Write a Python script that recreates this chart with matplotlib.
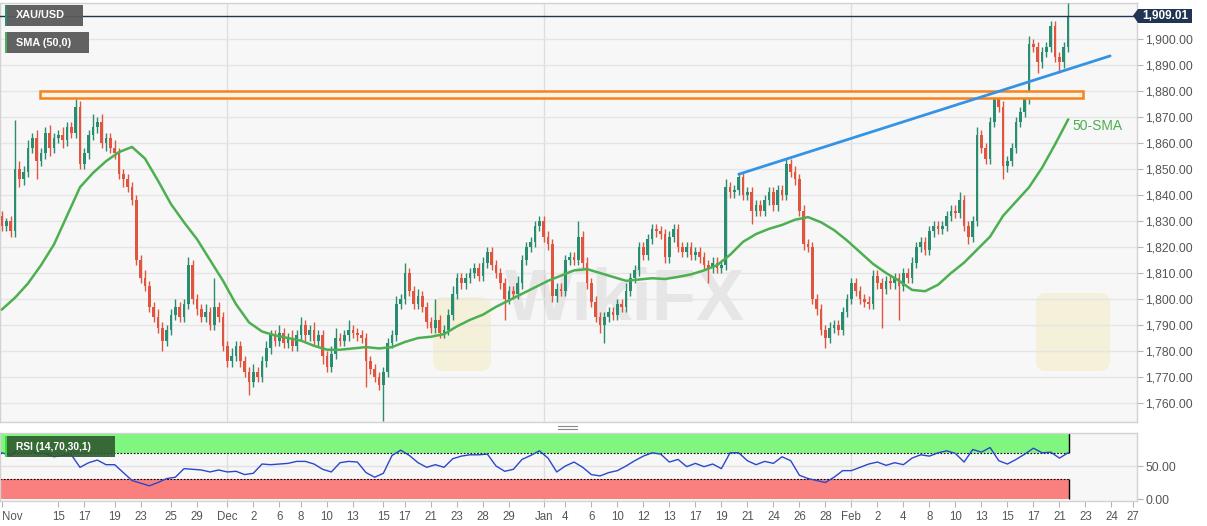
import numpy as np
import matplotlib
matplotlib.use('Agg')
import matplotlib.pyplot as plt
from matplotlib.patches import Rectangle, FancyBboxPatch, Polygon
from matplotlib.lines import Line2D
from matplotlib.transforms import IdentityTransform
from matplotlib.ticker import FuncFormatter

plt.rcParams['font.family'] = ['Liberation Sans', 'DejaVu Sans']

# XAU/USD, 3 candles per trading day, Nov 2021 .. 22 Feb 2022
first_open = 1832
closes = [1828, 1830, 1826, 1850, 1846, 1849, 1858, 1862, 1853, 1856,
          1864, 1858, 1862, 1863, 1861, 1866, 1864, 1874, 1852, 1856,
          1863, 1866, 1868, 1860, 1862, 1858, 1856, 1848, 1846, 1843,
          1838, 1815, 1808, 1805, 1797, 1793, 1789, 1784, 1788, 1794,
          1797, 1793, 1798, 1813, 1800, 1796, 1793, 1795, 1790, 1797,
          1793, 1782, 1776, 1778, 1782, 1776, 1772, 1768, 1772, 1770,
          1776, 1781, 1786, 1784, 1787, 1783, 1785, 1782, 1786, 1790,
          1786, 1788, 1784, 1786, 1778, 1774, 1779, 1785, 1784, 1786,
          1788, 1787, 1786, 1785, 1776, 1773, 1770, 1767, 1772, 1783,
          1786, 1798, 1800, 1810, 1803, 1798, 1801, 1797, 1791, 1789,
          1792, 1787, 1788, 1794, 1802, 1808, 1806, 1808, 1810, 1812,
          1809, 1814, 1818, 1813, 1810, 1806, 1800, 1803, 1802, 1806,
          1815, 1820, 1822, 1828, 1830, 1824, 1821, 1801, 1804, 1803,
          1815, 1816, 1815, 1824, 1814, 1806, 1799, 1793, 1790, 1793,
          1795, 1794, 1798, 1797, 1803, 1808, 1811, 1820, 1817, 1823,
          1827, 1826, 1825, 1816, 1824, 1827, 1820, 1818, 1820, 1817,
          1818, 1816, 1813, 1812, 1814, 1812, 1813, 1843, 1841, 1842,
          1847, 1840, 1841, 1834, 1836, 1834, 1838, 1841, 1836, 1842,
          1840, 1852, 1849, 1846, 1834, 1821, 1820, 1800, 1796, 1788,
          1785, 1789, 1790, 1788, 1795, 1800, 1806, 1803, 1800, 1799,
          1798, 1809, 1806, 1804, 1807, 1806, 1808, 1805, 1810, 1808,
          1814, 1820, 1822, 1819, 1826, 1828, 1827, 1828, 1832, 1834,
          1833, 1838, 1828, 1824, 1830, 1863, 1858, 1854, 1868, 1877,
          1874, 1851, 1853, 1858, 1868, 1872, 1877, 1898, 1897, 1891,
          1895, 1897, 1905, 1893, 1891, 1897, 1909.01]
# wick length above / below the candle body
wick_up = [2, 1, 2, 19, 3, 2, 3, 2, 3, 2,
           2, 3, 2, 2, 3, 2, 2, 3, 2, 2,
           2, 5, 2, 3, 2, 2, 3, 2, 2, 2,
           2, 2, 2, 3, 2, 2, 3, 2, 2, 2,
           3, 2, 2, 3, 2, 2, 2, 3, 2, 11,
           2, 2, 2, 3, 2, 2, 2, 2, 3, 2,
           2, 3, 2, 2, 3, 2, 2, 3, 2, 3,
           2, 2, 3, 2, 2, 2, 3, 4, 2, 2,
           4, 2, 2, 2, 2, 2, 2, 2, 2, 2,
           2, 3, 2, 4, 2, 2, 3, 2, 2, 2,
           8, 2, 2, 2, 3, 2, 2, 2, 2, 2,
           2, 2, 2, 2, 2, 2, 2, 2, 2, 3,
           2, 2, 2, 2, 2, 2, 2, 2, 2, 2,
           2, 2, 2, 6, 2, 2, 2, 2, 2, 2,
           2, 2, 2, 2, 3, 2, 2, 2, 2, 2,
           2, 2, 2, 2, 2, 2, 2, 2, 2, 2,
           2, 2, 2, 2, 2, 2, 2, 3, 2, 2,
           1, 2, 2, 2, 2, 2, 2, 2, 2, 2,
           2, 2, 2, 2, 2, 2, 2, 2, 2, 2,
           2, 2, 2, 2, 2, 2, 2, 2, 2, 2,
           2, 2, 2, 2, 2, 2, 2, 2, 2, 2,
           2, 2, 2, 2, 2, 2, 2, 2, 2, 2,
           2, 3, 2, 2, 2, 3, 2, 2, 2, 2,
           3, 2, 2, 2, 2, 2, 2, 3, 2, 2,
           2, 2, 2, 2, 2, 2, 5]
wick_dn = [2, 2, 2, 2, 3, 2, 2, 2, 7, 2,
           2, 3, 2, 2, 3, 2, 2, 2, 2, 2,
           2, 2, 2, 2, 3, 2, 2, 2, 3, 2,
           2, 2, 2, 2, 2, 2, 2, 4, 2, 2,
           2, 2, 2, 2, 2, 2, 2, 2, 2, 2,
           2, 2, 2, 2, 2, 2, 2, 5, 2, 2,
           2, 2, 2, 2, 2, 2, 2, 2, 2, 2,
           2, 2, 2, 2, 3, 2, 2, 2, 2, 2,
           2, 2, 2, 2, 10, 2, 2, 2, 14, 2,
           2, 2, 2, 2, 2, 2, 2, 2, 2, 2,
           2, 2, 2, 2, 2, 2, 2, 2, 2, 2,
           2, 2, 2, 2, 2, 2, 8, 2, 2, 2,
           2, 2, 2, 2, 2, 2, 2, 2, 2, 2,
           2, 2, 2, 2, 2, 2, 2, 2, 3, 7,
           2, 2, 2, 2, 2, 2, 2, 2, 2, 2,
           2, 2, 2, 2, 2, 2, 2, 2, 2, 2,
           2, 2, 2, 6, 2, 2, 2, 2, 2, 2,
           2, 2, 2, 5, 2, 2, 2, 2, 2, 2,
           2, 2, 2, 2, 2, 2, 2, 2, 2, 2,
           4, 2, 2, 2, 2, 2, 2, 2, 2, 2,
           2, 2, 2, 15, 2, 2, 2, 13, 2, 2,
           2, 2, 2, 2, 2, 2, 2, 2, 2, 2,
           2, 2, 2, 3, 2, 2, 2, 2, 2, 2,
           2, 5, 2, 2, 2, 2, 2, 2, 2, 4,
           2, 2, 2, 2, 4, 2, 2]
# SMA(50), read once per trading day (every 3rd candle)
sma50 = [1796, 1800.5, 1806, 1813, 1821, 1832, 1843, 1848.5, 1853, 1856.5,
         1858.5, 1854, 1845.5, 1836.5, 1829.5, 1823, 1815, 1807, 1798, 1791,
         1787.5, 1786, 1785, 1784, 1782, 1780.5, 1780.5, 1781, 1781.5, 1781,
         1781.5, 1783.5, 1785, 1785.5, 1786.5, 1789.5, 1792, 1794, 1797, 1799.5,
         1802, 1804.5, 1807, 1809, 1811, 1811.5, 1810, 1808.5, 1807, 1807.5,
         1808, 1807.7, 1808.5, 1809.5, 1811, 1813, 1817, 1822, 1825, 1827,
         1828.5, 1830.5, 1831.5, 1829.5, 1826.5, 1822.5, 1818, 1813.5, 1810, 1807,
         1803.5, 1803, 1805.5, 1810, 1814, 1819, 1824, 1832, 1837.5, 1843,
         1850.5, 1859.5, 1869]
# RSI(14), read every 2nd candle
rsi14 = [70, 66, 77, 79, 69, 69, 64, 66, 67, 48,
         55, 59, 52, 52, 40, 28, 24, 20, 25, 31,
         33, 46, 45, 44, 41, 44, 41, 42, 37, 39,
         53, 52, 53, 54, 57, 57, 53, 45, 41, 55,
         57, 56, 40, 33, 39, 66, 74, 66, 55, 48,
         52, 48, 61, 65, 67, 67, 68, 50, 42, 45,
         60, 66, 73, 62, 41, 50, 56, 48, 37, 35,
         40, 43, 50, 58, 65, 70, 68, 56, 60, 49,
         54, 49, 53, 46, 70, 70, 58, 52, 57, 54,
         64, 58, 36, 31, 28, 25, 33, 43, 43, 48,
         53, 56, 51, 55, 52, 62, 67, 65, 70, 73,
         69, 56, 75, 71, 78, 58, 53, 60, 68, 77,
         70, 71, 62, 70]
tick_idx = [0, 13, 19, 26, 32, 39, 45, 52, 58, 64, 69, 75, 81, 88, 93, 99,
            105, 111, 117, 125, 130, 136, 142, 148, 154, 160, 166, 172, 178,
            184, 190, 196, 202, 208, 214, 220, 226, 232, 238, 244, 250, 256, 261]
tick_lab = ['Nov', '15', '17', '19', '23', '25', '29', 'Dec', '2', '6', '8',
            '10', '13', '15', '17', '21', '23', '28', '29', 'Jan', '4', '6',
            '10', '12', '13', '17', '19', '21', '24', '26', '28', 'Feb', '2',
            '4', '8', '10', '13', '15', '17', '21', '23', '24', '27']
month_idx = [52, 125, 196]
trend_x = [170, 255.7]
trend_y = [1848.0, 1893.5]
zone_x = [8.8, 249.5]
zone_y = [1877.3, 1880.0]
last_price = 1909.01

closes = np.array(closes, dtype=float)
opens = np.r_[first_open, closes[:-1]]
highs = np.maximum(opens, closes) + np.array(wick_up)
lows = np.minimum(opens, closes) - np.array(wick_dn)
idx = np.arange(len(closes))
sma_idx = np.arange(0, len(closes), 3)
rsi_idx = np.arange(0, len(closes), 2)
last_i = idx[-1] + 0.2

W, H = 1207, 526
fig = plt.figure(figsize=(W / 100, H / 100), dpi=100)
fig.patch.set_facecolor('white')


def px_box(l, t, r, b):
    return [l / W, 1 - b / H, (r - l) / W, (b - t) / H]


ax = fig.add_axes(px_box(0, 3, 1137, 422))
ax2 = fig.add_axes(px_box(0, 433, 1137, 501), sharex=ax)
for a in (ax, ax2):
    a.set_facecolor('#f7f7f7')
    for s in a.spines.values():
        s.set_color('#d2d2d2')
        s.set_linewidth(1)
    a.yaxis.tick_right()
    a.tick_params(axis='y', length=4, color='#b5b5b5', labelcolor='#555555',
                  labelsize=8.7, pad=2)
    for m in month_idx:
        a.axvline(m, color='#dedede', lw=1, zorder=0)

ax.set_xlim(-0.46, 261.9)
ax.set_ylim(1752.7, 1913.85)
ax.set_yticks(np.arange(1760, 1901, 10))
ax.yaxis.set_major_formatter(FuncFormatter(lambda v, p: f'{v:,.2f}'))
ax.grid(axis='y', color='#e5e5e5', lw=1, zorder=0)
ax.tick_params(axis='x', bottom=False, labelbottom=False)

# faint watermarks
ident = IdentityTransform()
for (x0, y0, w, h) in [(433, 297, 58, 74), (1036, 293, 74, 78)]:
    ax.add_patch(FancyBboxPatch((x0, H - y0 - h), w, h,
                                boxstyle='round,pad=0,rounding_size=10',
                                transform=ident, facecolor='#f3e3a6',
                                edgecolor='none', alpha=0.35, zorder=1))
ax.text(625, H - 301, 'WikiFX', transform=ident, fontsize=52, weight='bold',
        color='#9a9a9a', alpha=0.18, ha='center', va='center', zorder=1)

# candles
col = np.where(closes >= opens, '#2a8c70', '#e0553f')
ax.vlines(idx, lows, highs, colors=col, lw=1, zorder=3)
ax.bar(idx, np.maximum(np.abs(closes - opens), 0.4),
       bottom=np.minimum(opens, closes), width=0.62, color=col,
       linewidth=0, zorder=4)

ax.plot(sma_idx, sma50, color='#4caf50', lw=1.8, zorder=5)
ax.text(247, 1866.5, '50-SMA', color='#4caf50', fontsize=10, va='center',
        ha='left', zorder=6)
ax.plot(trend_x, trend_y, color='#3593e6', lw=2, zorder=6,
        solid_capstyle='round')
ax.add_patch(Rectangle((zone_x[0], zone_y[0]), zone_x[1] - zone_x[0],
                       zone_y[1] - zone_y[0], facecolor='#fdf3e6',
                       edgecolor='#f5831f', lw=1.8, zorder=5))
ax.axhline(last_price, color='#22364f', lw=1, zorder=6)

# RSI panel
ax2.set_ylim(-3, 100)
ax2.set_yticks([0, 50])
ax2.yaxis.set_major_formatter(FuncFormatter(lambda v, p: f'{v:.2f}'))
ax2.axhline(50, color='#e2e2e2', lw=1, zorder=0)
ax2.fill_between([-0.46, last_i], 70, 100, color='#80f580', lw=0, zorder=1)
ax2.fill_between([-0.46, last_i], 0, 30, color='#fa7f7f', lw=0, zorder=1)
ax2.vlines([last_i, last_i], [0, 70], [30, 100], colors='black', lw=1,
           zorder=2)
ax2.hlines([30, 70], -0.46, last_i, colors='black', lw=0.8,
           linestyles=(0, (1.5, 1.5)), zorder=2)
ax2.plot(rsi_idx, rsi14, color='#2b47cc', lw=1, zorder=3)
ax2.set_xticks(tick_idx)
ax2.set_xticklabels(tick_lab)
ax2.tick_params(axis='x', length=4, color='#b5b5b5', labelcolor='#555555',
                labelsize=8.3, pad=3)
ax2.get_xticklabels()[0].set_horizontalalignment('left')


# top-left tags
def tag(l, t, r, b, text, face, stripe, fs, alpha=0.95):
    fig.add_artist(Rectangle((l / W, 1 - b / H), (r - l) / W, (b - t) / H,
                             transform=fig.transFigure, facecolor=face,
                             edgecolor='none', alpha=alpha, zorder=10))
    fig.add_artist(Rectangle((l / W, 1 - b / H), 2 / W, (b - t) / H,
                             transform=fig.transFigure, facecolor=stripe,
                             edgecolor='none', zorder=11))
    fig.text((l + 11) / W, 1 - (t + b) / 2 / H, text, color='white',
             fontsize=fs, weight='bold', va='center', ha='left', zorder=12)


tag(5, 5, 83, 26, 'XAU/USD', '#5a5a5a', '#2a8c70', 7.8)
tag(5, 32, 89, 53, 'SMA (50,0)', '#5a5a5a', '#4caf50', 7.8)
tag(5, 436, 115, 457, 'RSI (14,70,30,1)', '#2f5a2f', '#3ddc3d', 7.4, 0.9)

# last price label
fig.add_artist(Polygon([[1133 / W, 1 - 15.5 / H], [1138 / W, 1 - 9 / H],
                        [1192 / W, 1 - 9 / H], [1192 / W, 1 - 23 / H],
                        [1138 / W, 1 - 23 / H]], closed=True,
                       transform=fig.transFigure, facecolor='#1f3552',
                       edgecolor='none', zorder=10))
fig.text(1165 / W, 1 - 16 / H, f'{last_price:,.2f}', color='white',
         fontsize=8.5, weight='bold', ha='center', va='center', zorder=11)

# panel splitter
for yy in (425.5, 428.5):
    fig.add_artist(Line2D([558 / W, 577 / W], [1 - yy / H, 1 - yy / H],
                          color='#8a8a8a', lw=0.8))

fig.savefig('out.png', dpi=100)
